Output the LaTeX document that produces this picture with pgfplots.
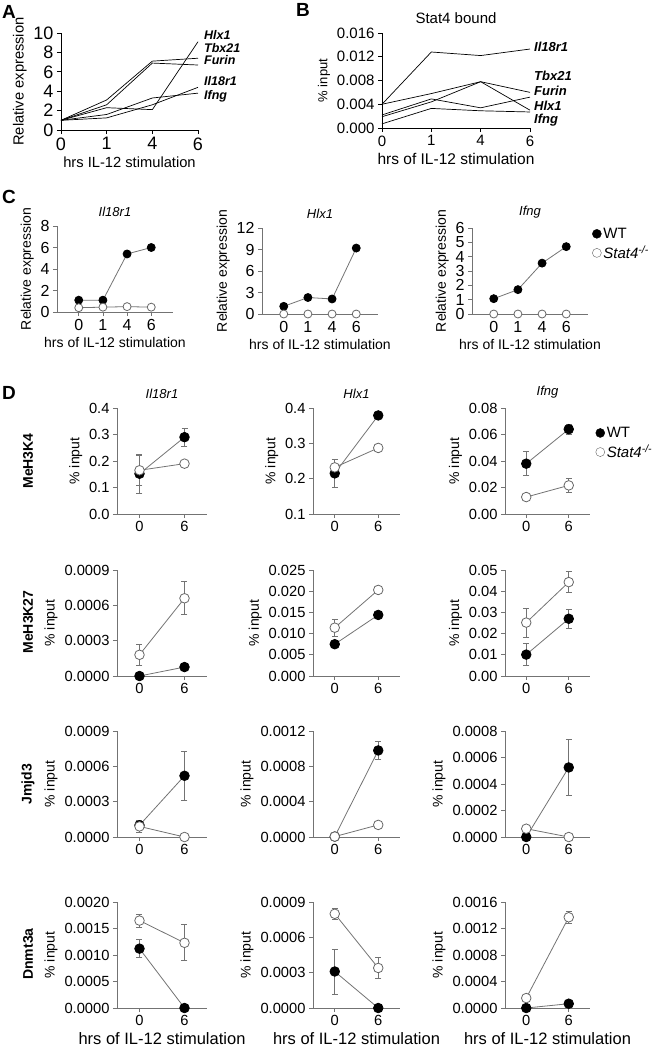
\documentclass[border=0pt]{standalone}
\usepackage{fontspec}
\setmainfont{Liberation Sans}
\usepackage{pgfplots}
\pgfplotsset{compat=1.18}
\newcommand\fs[1]{\fontsize{#1}{#1}\selectfont}
\newcommand\fsT{\fs{14}}
\newcommand\fsL{\fs{19}}

\pgfplotsset{
  xl/.style={scale only axis, anchor=south west,
    axis x line*=bottom, axis y line*=left,
    axis line style={black!55, line width=0.8pt},
    tick style={black!55, line width=0.8pt},
    tick align=outside, major tick length=4pt,
    clip=false, scaled ticks=false,
    /pgf/number format/assume math mode=true,
    ticklabel style={font=\fs{14.7}},
    label style={font=\fsT},
    title style={font=\fs{13}\itshape},
  },
  cc/.style={xl, width=116pt, height=86pt, xmin=-0.9, xmax=3.9,
    xtick={0,1,2,3}, xticklabels={0,1,4,6}, ymin=0,
    ticklabel style={font=\fs{16}}, label style={font=\fs{14}},
    xlabel={hrs of IL-12 stimulation}, ylabel={Relative expression}},
  dd/.style={xl, height=106pt, xmin=-0.5, xmax=1.5,
    xtick={0,1}, xticklabels={0,6}, ylabel={\% input}},
  wt/.style={black!55, line width=0.8pt, mark=*, mark size=#1,
    mark options={draw=black, fill=black}},
  wt/.default=4.8pt,
  ko/.style={black!55, line width=0.8pt, mark=*, mark size=#1,
    mark options={draw=black!60, fill=white}},
  ko/.default=4.8pt,
  eb/.style={forget plot, draw=none, mark=none,
    error bars/.cd, y dir=both, y explicit,
    error bar style={draw=black!55, line width=0.7pt},
    error mark options={draw=black!55, line width=0.7pt, mark size=3pt, rotate=90}},
  lg/.style={legend style={draw=none, fill=none, font=\fs{15}, anchor=north west,
    at={#1}, row sep=2pt}, legend cell align=left},
}

\begin{document}
\begin{tikzpicture}
\path[use as bounding box] (0,0) rectangle (653pt,-1050pt);

% ---------- A ----------
\node[font=\fsL\bfseries] at (9pt,-12pt) {A};
\begin{axis}[xl, at={(61pt,-130pt)}, width=137pt, height=97pt,
  xmin=0, xmax=3, ymin=0, ymax=10, xtick={0,1,2,3}, xticklabels={0,1,4,6},
  ytick={0,2,...,10}, ticklabel style={font=\fs{18}}, label style={font=\fs{14.7}},
  axis line style={black}, tick style={black},
  xlabel={hrs IL-12 stimulation}, ylabel={Relative expression}]
\addplot[black, line width=0.7pt] coordinates {(0,1) (1,3.1) (2,7.1) (3,7.4)};
\addplot[black, line width=0.7pt] coordinates {(0,1) (1,2.6) (2,6.9) (3,6.7)};
\addplot[black, line width=0.7pt] coordinates {(0,1) (1,2.3) (2,2.1) (3,9.1)};
\addplot[black, line width=0.7pt] coordinates {(0,1) (1,1.25) (2,2.6) (3,4.4)};
\addplot[black, line width=0.7pt] coordinates {(0,1) (1,1.6) (2,3.3) (3,3.8)};
\end{axis}
\begin{scope}[every node/.style={font=\fs{12.5}\bfseries\itshape, anchor=west, inner sep=0pt}]
\node at (204pt,-35pt) {Hlx1};
\node at (204pt,-48pt) {Tbx21};
\node at (204pt,-60pt) {Furin};
\node at (204pt,-81pt) {Il18r1};
\node at (204pt,-96pt) {Ifng};
\end{scope}

% ---------- B ----------
\node[font=\fsL\bfseries] at (303pt,-10pt) {B};
\begin{axis}[xl, at={(382pt,-128pt)}, width=148pt, height=95pt,
  xmin=0, xmax=3, ymin=0, ymax=0.016, xtick={0,1,2,3}, xticklabels={0,1,4,6},
  ytick={0,0.004,0.008,0.012,0.016},
  yticklabels={0.000,0.004,0.008,0.012,0.016},
  ticklabel style={font=\fs{15}},
  axis line style={black}, tick style={black},
  title style={font=\fs{15}}, title={Stat4 bound},
  xlabel style={font=\fs{15.5}}, ylabel style={font=\fs{13}},
  xlabel={hrs of IL-12 stimulation}, ylabel={\% input}]
\addplot[black, line width=0.7pt] coordinates {(0,0.0040) (1,0.0128) (2,0.0122) (3,0.0133)};
\addplot[black, line width=0.7pt] coordinates {(0,0.0040) (1,0.0058) (2,0.0078) (3,0.0060)};
\addplot[black, line width=0.7pt] coordinates {(0,0.0022) (1,0.0049) (2,0.0034) (3,0.0052)};
\addplot[black, line width=0.7pt] coordinates {(0,0.0019) (1,0.0044) (2,0.0078) (3,0.0030)};
\addplot[black, line width=0.7pt] coordinates {(0,0.0007) (1,0.0033) (2,0.0029) (3,0.0027)};
\end{axis}
\begin{scope}[every node/.style={font=\fs{13}\bfseries\itshape, anchor=west, inner sep=0pt}]
\node at (534pt,-47pt) {Il18r1};
\node at (534pt,-76pt) {Tbx21};
\node at (534pt,-91pt) {Furin};
\node at (534pt,-106pt) {Hlx1};
\node at (534pt,-120pt) {Ifng};
\end{scope}

% ---------- C ----------
\node[font=\fsL\bfseries] at (9pt,-197pt) {C};
\begin{axis}[cc, at={(57pt,-312pt)}, ymax=8, ytick={0,2,...,8}, title={Il18r1}]
\addplot[wt=4pt] coordinates {(0,1.1) (1,1.1) (2,5.4) (3,6.0)};
\addplot[ko=4pt] coordinates {(0,0.4) (1,0.45) (2,0.5) (3,0.45)};
\end{axis}
\begin{axis}[cc, at={(262pt,-314pt)}, ymax=12, ytick={0,3,...,12}, title={Hlx1}]
\addplot[wt=4pt] coordinates {(0,1.07) (1,2.3) (2,2.1) (3,9.2)};
\addplot[ko=4pt] coordinates {(0,0) (1,0) (2,0) (3,0)};
\end{axis}
\begin{axis}[cc, at={(472pt,-314pt)}, ymax=6, ytick={0,1,...,6},
  title={Ifng}, lg={(1.01,1.05)}]
\addlegendimage{only marks, mark=*, mark size=4.5pt, mark options={draw=black, fill=black}}
\addlegendimage{only marks, mark=*, mark size=4.5pt, mark options={draw=black!60, fill=white}}
\addplot[wt=4pt] coordinates {(0,1.07) (1,1.7) (2,3.55) (3,4.7)};
\addplot[ko=4pt] coordinates {(0,0) (1,0) (2,0) (3,0)};
\legend{WT, \textit{Stat4}\textsuperscript{\textit{-/-}}}
\end{axis}

% ---------- D ----------
\node[font=\fsL\bfseries] at (9pt,-393pt) {D};
\begin{scope}[every node/.style={font=\fsT\bfseries, rotate=90}]
\node at (28pt,-461pt) {MeH3K4};
\node at (28pt,-622pt) {MeH3K27};
\node at (28pt,-784pt) {Jmjd3};
\node at (28pt,-954pt) {Dnmt3a};
\end{scope}

% row 1: MeH3K4
\begin{axis}[dd, at={(117pt,-514pt)}, width=90pt, ymin=0, ymax=0.4,
  ytick={0,0.1,0.2,0.3,0.4}, yticklabels={0.0,0.1,0.2,0.3,0.4}, title={Il18r1}]
\addplot[eb] coordinates {(0,0.152) +- (0,0.075) (1,0.29) +- (0,0.033)};
\addplot[eb] coordinates {(0,0.165) +- (0,0.057) (1,0.19) +- (0,0.008)};
\addplot[wt] coordinates {(0,0.152) (1,0.29)};
\addplot[ko] coordinates {(0,0.165) (1,0.19)};
\end{axis}
\begin{axis}[dd, at={(313pt,-514pt)}, width=87pt, ymin=0.1, ymax=0.4,
  ytick={0.1,0.2,0.3,0.4}, yticklabels={0.1,0.2,0.3,0.4}, title={Hlx1}]
\addplot[eb] coordinates {(0,0.215) +- (0,0.04) (1,0.379) +- (0,0.005)};
\addplot[eb] coordinates {(0,0.232) +- (0,0.023) (1,0.287) +- (0,0.005)};
\addplot[wt] coordinates {(0,0.215) (1,0.379)};
\addplot[ko] coordinates {(0,0.232) (1,0.287)};
\end{axis}
\begin{axis}[dd, at={(505pt,-514pt)}, width=85pt, ymin=0, ymax=0.08,
  ytick={0,0.02,0.04,0.06,0.08}, yticklabels={0.00,0.02,0.04,0.06,0.08},
  title={Ifng}, lg={(1.03,0.86)}]
\addlegendimage{only marks, mark=*, mark size=4.5pt, mark options={draw=black, fill=black}}
\addlegendimage{only marks, mark=*, mark size=4.5pt, mark options={draw=black!60, fill=white}}
\addplot[eb] coordinates {(0,0.038) +- (0,0.009) (1,0.064) +- (0,0.004)};
\addplot[eb] coordinates {(0,0.0128) +- (0,0.002) (1,0.0216) +- (0,0.005)};
\addplot[wt] coordinates {(0,0.038) (1,0.064)};
\addplot[ko] coordinates {(0,0.0128) (1,0.0216)};
\legend{WT, \textit{Stat4}\textsuperscript{\textit{-/-}}}
\end{axis}

% row 2: MeH3K27
\begin{axis}[dd, at={(117pt,-676pt)}, width=90pt, ymin=0, ymax=0.0009,
  ytick={0,0.0003,0.0006,0.0009}, yticklabels={0.0000,0.0003,0.0006,0.0009}]
\addplot[eb] coordinates {(0,0) +- (0,0) (1,0.000076) +- (0,0.00001)};
\addplot[eb] coordinates {(0,0.00018) +- (0,0.00009) (1,0.00066) +- (0,0.00014)};
\addplot[wt] coordinates {(0,0) (1,0.000076)};
\addplot[ko] coordinates {(0,0.00018) (1,0.00066)};
\end{axis}
\begin{axis}[dd, at={(313pt,-676pt)}, width=87pt, ymin=0, ymax=0.025,
  ytick={0,0.005,0.01,0.015,0.02,0.025},
  yticklabels={0.000,0.005,0.010,0.015,0.020,0.025}]
\addplot[eb] coordinates {(0,0.0075) +- (0,0.0005) (1,0.0144) +- (0,0.0005)};
\addplot[eb] coordinates {(0,0.0114) +- (0,0.002) (1,0.0203) +- (0,0.0005)};
\addplot[wt] coordinates {(0,0.0075) (1,0.0144)};
\addplot[ko] coordinates {(0,0.0114) (1,0.0203)};
\end{axis}
\begin{axis}[dd, at={(505pt,-676pt)}, width=85pt, ymin=0, ymax=0.05,
  ytick={0,0.01,0.02,0.03,0.04,0.05},
  yticklabels={0.00,0.01,0.02,0.03,0.04,0.05}]
\addplot[eb] coordinates {(0,0.0101) +- (0,0.0053) (1,0.027) +- (0,0.0046)};
\addplot[eb] coordinates {(0,0.0252) +- (0,0.0068) (1,0.0443) +- (0,0.005)};
\addplot[wt] coordinates {(0,0.0101) (1,0.027)};
\addplot[ko] coordinates {(0,0.0252) (1,0.0443)};
\end{axis}

% row 3: Jmjd3
\begin{axis}[dd, at={(117pt,-837pt)}, width=90pt, ymin=0, ymax=0.0009,
  ytick={0,0.0003,0.0006,0.0009}, yticklabels={0.0000,0.0003,0.0006,0.0009}]
\addplot[eb] coordinates {(0,0.0001) +- (0,0.00003) (1,0.00052) +- (0,0.00021)};
\addplot[eb] coordinates {(0,0.00009) +- (0,0.00005) (1,0) +- (0,0)};
\addplot[wt] coordinates {(0,0.0001) (1,0.00052)};
\addplot[ko] coordinates {(0,0.00009) (1,0)};
\end{axis}
\begin{axis}[dd, at={(313pt,-837pt)}, width=87pt, ymin=0, ymax=0.0012,
  ytick={0,0.0004,0.0008,0.0012}, yticklabels={0.0000,0.0004,0.0008,0.0012}]
\addplot[eb] coordinates {(0,0.000005) +- (0,0) (1,0.00098) +- (0,0.0001)};
\addplot[eb] coordinates {(0,0.000005) +- (0,0) (1,0.000137) +- (0,0.00001)};
\addplot[wt] coordinates {(0,0.000005) (1,0.00098)};
\addplot[ko] coordinates {(0,0.000005) (1,0.000137)};
\end{axis}
\begin{axis}[dd, at={(505pt,-837pt)}, width=85pt, ymin=0, ymax=0.0008,
  ytick={0,0.0002,0.0004,0.0006,0.0008},
  yticklabels={0.0000,0.0002,0.0004,0.0006,0.0008}]
\addplot[eb] coordinates {(0,0) +- (0,0) (1,0.000525) +- (0,0.00021)};
\addplot[wt] coordinates {(0,0) (1,0.000525)};
\addplot[ko] coordinates {(0,0.0000625) (1,0)};
\end{axis}

% row 4: Dnmt3a
\begin{axis}[dd, at={(117pt,-1008pt)}, width=90pt, ymin=0, ymax=0.002,
  ytick={0,0.0005,0.001,0.0015,0.002},
  yticklabels={0.0000,0.0005,0.0010,0.0015,0.0020},
  xlabel style={font=\fs{16.5}}, xlabel={hrs of IL-12 stimulation}]
\addplot[eb] coordinates {(0,0.00112) +- (0,0.00017) (1,0) +- (0,0)};
\addplot[eb] coordinates {(0,0.00165) +- (0,0.00012) (1,0.00123) +- (0,0.00034)};
\addplot[wt] coordinates {(0,0.00112) (1,0)};
\addplot[ko] coordinates {(0,0.00165) (1,0.00123)};
\end{axis}
\begin{axis}[dd, at={(313pt,-1008pt)}, width=87pt, ymin=0, ymax=0.0009,
  ytick={0,0.0003,0.0006,0.0009}, yticklabels={0.0000,0.0003,0.0006,0.0009},
  xlabel style={font=\fs{16.5}}, xlabel={hrs of IL-12 stimulation}]
\addplot[eb] coordinates {(0,0.00031) +- (0,0.00019) (1,0) +- (0,0)};
\addplot[eb] coordinates {(0,0.0008) +- (0,0.00005) (1,0.00034) +- (0,0.00009)};
\addplot[wt] coordinates {(0,0.00031) (1,0)};
\addplot[ko] coordinates {(0,0.0008) (1,0.00034)};
\end{axis}
\begin{axis}[dd, at={(505pt,-1008pt)}, width=85pt, ymin=0, ymax=0.0016,
  ytick={0,0.0004,0.0008,0.0012,0.0016},
  yticklabels={0.0000,0.0004,0.0008,0.0012,0.0016},
  xlabel style={font=\fs{16.5}}, xlabel={hrs of IL-12 stimulation}]
\addplot[eb] coordinates {(0,0.00015) +- (0,0) (1,0.00137) +- (0,0.00009)};
\addplot[wt] coordinates {(0,0) (1,0.000065)};
\addplot[ko] coordinates {(0,0.00015) (1,0.00137)};
\end{axis}
\end{tikzpicture}
\end{document}
